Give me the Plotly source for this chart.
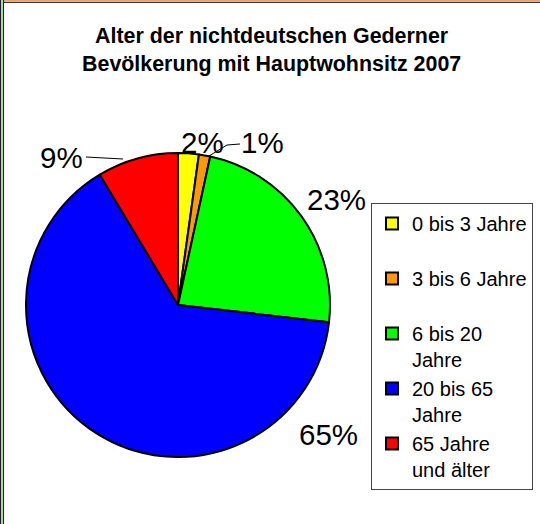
import plotly.graph_objects as go

# ---- data ----
categories = ["0 bis 3 Jahre", "3 bis 6 Jahre", "6 bis 20 Jahre", "20 bis 65 Jahre", "65 Jahre und älter"]
legend_labels = ["0 bis 3 Jahre<br>\u00a0", "3 bis 6 Jahre<br>\u00a0", "6 bis 20<br>Jahre",
                 "20 bis 65<br>Jahre", "65 Jahre<br>und älter"]
shares = [2.2, 1.2, 23.4, 64.6, 8.6]
colors = ["#FFFF00", "#FF9900", "#00FF00", "#0000FF", "#FF0000"]
title_text = "Alter der nichtdeutschen Gederner<br>Bevölkerung mit Hauptwohnsitz 2007"

# ---- layout / style ----
W, H = 540, 524
CX, CY, R = 178, 305, 152
label_pos = [(202, 142), (262, 142), (336, 199), (328, 434), (61, 157)]
FONT = "Liberation Sans, Arial, sans-serif"

def px(x):
    return x / W

def py(y):
    return 1 - y / H

fig = go.Figure(go.Pie(
    labels=legend_labels,
    values=shares,
    hovertext=categories,
    hoverinfo="text+percent",
    sort=False,
    direction="clockwise",
    rotation=0,
    textinfo="none",
    marker=dict(colors=colors, line=dict(color="black", width=2)),
    domain=dict(x=[px(CX - R), px(CX + R)], y=[py(CY + R), py(CY - R)]),
))

annotations = []
for v, (x, y) in zip(shares, label_pos):
    annotations.append(dict(
        text=f"{round(v)}%", x=px(x), y=py(y), xref="paper", yref="paper",
        xanchor="center", yanchor="middle", showarrow=False,
        font=dict(family=FONT, size=29.5, color="black"),
    ))

shapes = [
    # leader lines
    dict(type="path", xref="paper", yref="paper",
         path=f"M{px(240)},{py(144)} L{px(227)},{py(145)} L{px(209)},{py(156)}",
         line=dict(color="black", width=1)),
    dict(type="line", xref="paper", yref="paper",
         x0=px(86), y0=py(157), x1=px(123), y1=py(159),
         line=dict(color="black", width=1)),
    # frame edges
    dict(type="line", xref="paper", yref="paper", x0=0, x1=1, y0=py(0.8), y1=py(0.8),
         line=dict(color="#E0A070", width=2)),
    dict(type="line", xref="paper", yref="paper", x0=0, x1=1, y0=py(2.5), y1=py(2.5),
         line=dict(color="#333333", width=1)),
    dict(type="line", xref="paper", yref="paper", x0=px(0.5), x1=px(0.5), y0=0, y1=1,
         line=dict(color="#222222", width=1)),
    dict(type="line", xref="paper", yref="paper", x0=px(2), x1=px(2), y0=0, y1=1,
         line=dict(color="#A8D8A8", width=2)),
    dict(type="line", xref="paper", yref="paper", x0=px(3.5), x1=px(3.5), y0=0, y1=1,
         line=dict(color="#222222", width=1)),
]

fig.update_layout(
    width=W, height=H,
    margin=dict(l=0, r=0, t=0, b=0, pad=0),
    paper_bgcolor="white", plot_bgcolor="white",
    title=dict(text=f"<b>{title_text}</b>", x=0.503, xanchor="center",
               y=py(43), yanchor="top", yref="container",
               font=dict(family=FONT, size=21.4, color="black")),
    showlegend=True,
    legend=dict(
        x=px(533), xanchor="right", y=py(203), yanchor="top",
        bgcolor="white", bordercolor="#444444", borderwidth=1,
        font=dict(family=FONT, size=20, color="black"),
        valign="top", itemwidth=30, traceorder="normal",
    ),
    annotations=annotations,
    shapes=shapes,
)

fig.write_html("out.html", config={"displayModeBar": False},
               post_script="document.body.style.margin='0px';")
